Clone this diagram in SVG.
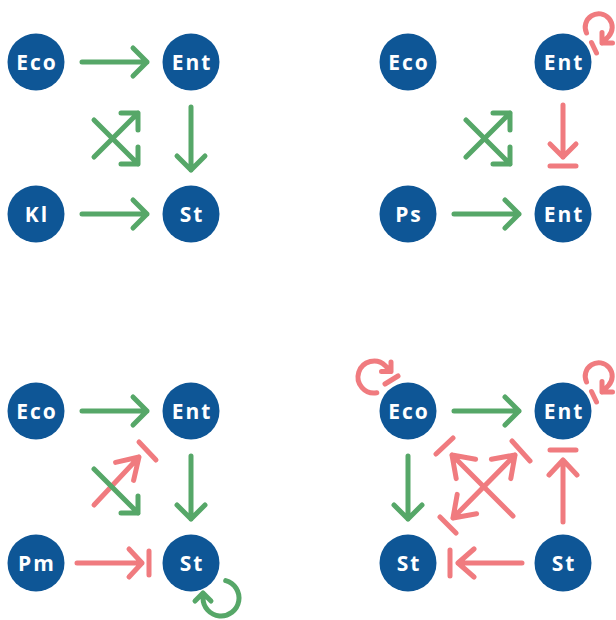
<svg xmlns="http://www.w3.org/2000/svg" width="616" height="620" viewBox="0 0 616 620">
<style>
.n{fill:#0e5696}
.t{fill:#fff;font-family:"Open Sans","DejaVu Sans",sans-serif;font-weight:700;font-size:21px;text-anchor:middle;letter-spacing:2px}
.c{fill:none;stroke-width:5;stroke-linecap:round;stroke-linejoin:round}
.g{stroke:#56a768}
.r{stroke:#f07b7f}
</style>
<rect width="616" height="620" fill="#fff"/>
<g id="connectors">
<!-- Q1 -->
<path class="c g" d="M82 62H147M133 48L147 62L133 76"/>
<path class="c g" d="M191 107V170M177 156L191 170L205 156"/>
<path class="c g" d="M82 214H147M133 200L147 214L133 228"/>
<path class="c g" d="M94 157L138 113M121 113H138V130"/>
<path class="c g" d="M94 120L138 164M121 164H138V147"/>
<!-- Q2 -->
<path class="c g" d="M466 157L510 113M493 113H510V130"/>
<path class="c g" d="M466 120L510 164M493 164H510V147"/>
<path class="c g" d="M454 214H519M505 200L519 214L505 228"/>
<path class="c r" d="M563 105V157M550 144L563 157L576 144M550 166H576"/>
<path class="c r" d="M586.5 33A13.5 13.5 0 1 1 608.5 36.5L602 43M612.5 43H602V32.5M591.5 42.5L596.5 53"/>
<!-- Q3 -->
<path class="c g" d="M82 411H147M133 397L147 411L133 425"/>
<path class="c g" d="M191 456V519M177 505L191 519L205 505"/>
<path class="c r" d="M94 505L139 457M115.6 462.4L139 457L133.6 480.4M139 442L156 460"/>
<path class="c g" d="M94 469L138 513M121 513H138V496"/>
<path class="c r" d="M77 563H142M129 549L142 563L129 577M149 551V575"/>
<path class="c g" d="M225.7 580.6A18 18 0 1 1 203 598L203 593M195 601L203 593L211 601"/>
<!-- Q4 -->
<path class="c g" d="M454 411H519M505 397L519 411L505 425"/>
<path class="c g" d="M408 456V519M394 505L408 519L422 505"/>
<path class="c r" d="M563 522V460M549 475L563 460L577 475M550 450H576"/>
<path class="c r" d="M522 563H458M474 549L458 563L474 577M450 550V576"/>
<path class="c r" d="M513 516L452 455M475.6 459.2L452 455L456.2 478.6M436 454L453 438"/>
<path class="c r" d="M453 518L515 455M510.8 478.6L515 455L491.4 459.2M476.6 513.8L453 518L457.2 494.4M512 441L530 461M440 517L456 533"/>
<path class="c r" d="M376.8 392.8A16 16 0 1 1 385.3 365.7L391 371.4M381.5 371.4H391V361.9M385 384L398 376"/>
<path class="c r" d="M586.5 382A13.5 13.5 0 1 1 608.5 385.5L602 392M612.5 392H602V381.5M591.5 391.5L596.5 402"/>
</g>
<g id="q1-eco"><circle class="n" cx="36" cy="62" r="28.5"/><text class="t" x="37" y="69.5">Eco</text></g>
<g id="q1-ent"><circle class="n" cx="191" cy="62" r="28.5"/><text class="t" x="192" y="69.5">Ent</text></g>
<g id="q1-kl"><circle class="n" cx="36" cy="214" r="28.5"/><text class="t" x="37" y="221.5">Kl</text></g>
<g id="q1-st"><circle class="n" cx="191" cy="214" r="28.5"/><text class="t" x="192" y="221.5">St</text></g>
<g id="q2-eco"><circle class="n" cx="408" cy="62" r="28.5"/><text class="t" x="409" y="69.5">Eco</text></g>
<g id="q2-ent"><circle class="n" cx="563" cy="62" r="28.5"/><text class="t" x="564" y="69.5">Ent</text></g>
<g id="q2-ps"><circle class="n" cx="408" cy="214" r="28.5"/><text class="t" x="409" y="221.5">Ps</text></g>
<g id="q2-ent2"><circle class="n" cx="563" cy="214" r="28.5"/><text class="t" x="564" y="221.5">Ent</text></g>
<g id="q3-eco"><circle class="n" cx="36" cy="411" r="28.5"/><text class="t" x="37" y="418.5">Eco</text></g>
<g id="q3-ent"><circle class="n" cx="191" cy="411" r="28.5"/><text class="t" x="192" y="418.5">Ent</text></g>
<g id="q3-pm"><circle class="n" cx="36" cy="563" r="28.5"/><text class="t" x="37" y="570.5">Pm</text></g>
<g id="q3-st"><circle class="n" cx="191" cy="563" r="28.5"/><text class="t" x="192" y="570.5">St</text></g>
<g id="q4-eco"><circle class="n" cx="408" cy="411" r="28.5"/><text class="t" x="409" y="418.5">Eco</text></g>
<g id="q4-ent"><circle class="n" cx="563" cy="411" r="28.5"/><text class="t" x="564" y="418.5">Ent</text></g>
<g id="q4-st"><circle class="n" cx="408" cy="563" r="28.5"/><text class="t" x="409" y="570.5">St</text></g>
<g id="q4-st2"><circle class="n" cx="563" cy="563" r="28.5"/><text class="t" x="564" y="570.5">St</text></g>
</svg>
